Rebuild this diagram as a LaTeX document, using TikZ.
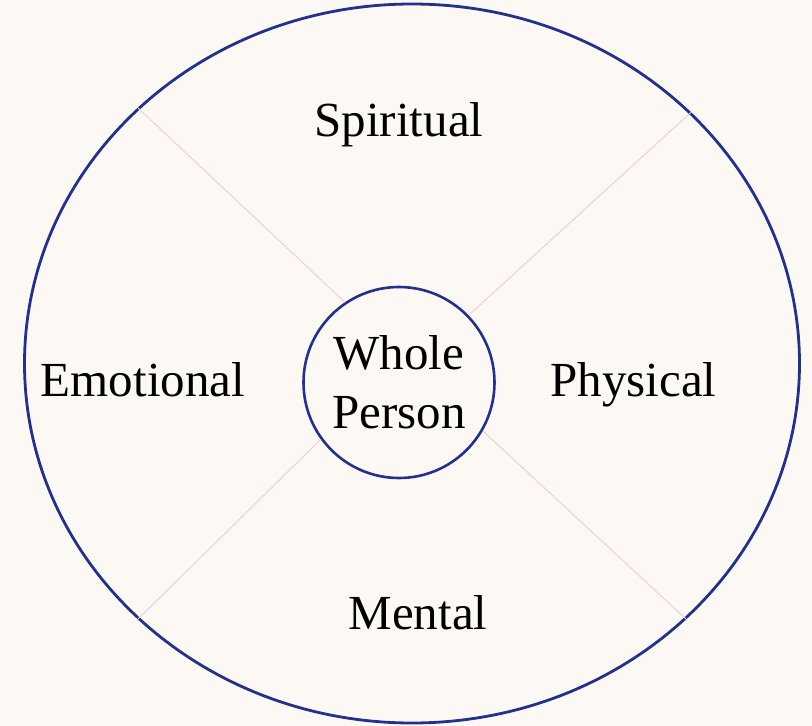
\documentclass[tikz,border=0pt]{standalone}
\usepackage{fontspec}
\setmainfont{Liberation Serif}
\usepackage{tikz}
\usetikzlibrary{shapes.geometric}
\definecolor{paper}{HTML}{FCF9F5}
\definecolor{rimblue}{HTML}{22308F}
\definecolor{spokepink}{HTML}{F4C9D2}

\begin{document}
\begin{tikzpicture}[
  x=1pt, y=-1pt,
  font=\fontsize{49}{59}\selectfont,
  rim/.style={draw=rimblue, line width=2.8pt, ellipse, inner sep=0pt,
              minimum width=775pt, minimum height=719pt},
  hub/.style={draw=rimblue, line width=2.6pt, circle, inner sep=0pt,
              minimum size=191pt, align=center},
  lbl/.style={anchor=base, inner sep=0pt},
  spoke/.style={draw=spokepink, line width=0.9pt},
]
\fill[paper] (0,0) rectangle (812,726);
\node[rim] (outer) at (412,363.5) {};
\node[hub] (whole) at (399,382.5) {Whole\\Person};

\node[lbl] (spiritual) at (399,136.7) {Spiritual};
\node[lbl] (emotional) at (143,396.7) {Emotional};
\node[lbl] (physical) at (633.5,396.7) {Physical};
\node[lbl] (mental) at (418,629) {Mental};

\draw[spoke] (outer.137.5) -- (whole.124.7);
\draw[spoke] (outer.42.4) -- (whole.44.6);
\draw[spoke] (outer.223) -- (whole.216.6);
\draw[spoke] (outer.317) -- (whole.330);
\end{tikzpicture}
\end{document}
